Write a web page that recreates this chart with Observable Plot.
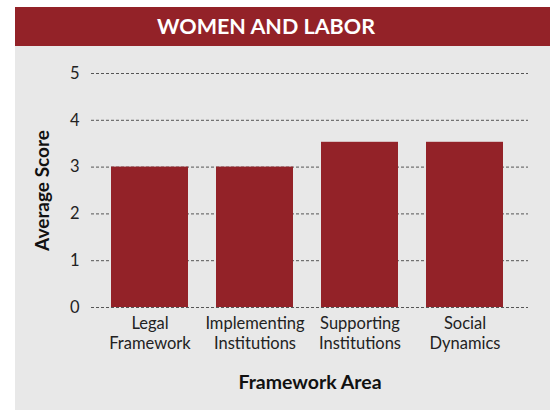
<!DOCTYPE html>
<html>
<head>
<meta charset="utf-8">
<script src="https://cdn.jsdelivr.net/npm/d3@7"></script>
<script src="https://cdn.jsdelivr.net/npm/@observablehq/plot@0.6"></script>
<style>
  html, body { margin: 0; padding: 0; background: #ffffff; }
  #panel { position: absolute; left: 15px; top: 7px; width: 535px; height: 403px; background: #e8e8e8; }
  #banner { height: 39px; background: #932228; color: #ffffff; font-family: Lato, sans-serif; font-weight: 700; font-size: 21.5px; line-height: 39px; position: relative; }
  #banner span { position: absolute; left: 251px; transform: translateX(-50%); white-space: nowrap; top: 0; }
  #chart svg { display: block; }
</style>
</head>
<body>
<div id="panel">
  <div id="banner"><span>WOMEN AND LABOR</span></div>
  <div id="chart"></div>
</div>
<script>
const title = "WOMEN AND LABOR";
const categories = ["Legal Framework", "Implementing Institutions", "Supporting Institutions", "Social Dynamics"];
const tickLabels = ["Legal\nFramework", "Implementing\nInstitutions", "Supporting\nInstitutions", "Social\nDynamics"];
const scores = [3.0, 3.0, 3.53, 3.53];
const yTicks = [0, 1, 2, 3, 4, 5];
const yLabel = "Average Score";
const xLabel = "Framework Area";

const data = categories.map((c, i) => ({category: c, score: scores[i]}));
const labelOf = new Map(categories.map((c, i) => [c, tickLabels[i]]));

const chart = Plot.plot({
  width: 535,
  height: 364,
  marginTop: 27,
  marginBottom: 103,
  marginLeft: 76,
  marginRight: 22,
  style: {fontFamily: "Lato, sans-serif", fontSize: "16px", background: "#e8e8e8", color: "#222222"},
  x: {domain: categories, paddingInner: 0.269, paddingOuter: 0.21, align: 0.45, label: null},
  y: {domain: [0, 5], label: null},
  marks: [
    Plot.ruleY(yTicks, {stroke: "#555555", strokeDasharray: "3,2", strokeWidth: 1}),
    Plot.barY(data, {x: "category", y: "score", fill: "#932228"}),
    Plot.axisY(yTicks, {tickSize: 0, tickPadding: 12, fontSize: 16.5, label: null, fill: "#222222"}),
    Plot.axisX({tickSize: 0, tickPadding: 7, fontSize: 16.5, lineHeight: 1.22, tickFormat: d => labelOf.get(d), label: null, fill: "#222222"}),
    Plot.text([yLabel], {frameAnchor: "left", textAnchor: "middle", lineAnchor: "middle", dx: -49, rotate: -90, fontWeight: "bold", fontSize: 19, fill: "#111111"}),
    Plot.text([xLabel], {frameAnchor: "bottom", textAnchor: "middle", lineAnchor: "middle", dy: 75, fontWeight: "bold", fontSize: 19.5, fill: "#111111"})
  ]
});
document.getElementById("chart").appendChild(chart);
</script>
</body>
</html>
